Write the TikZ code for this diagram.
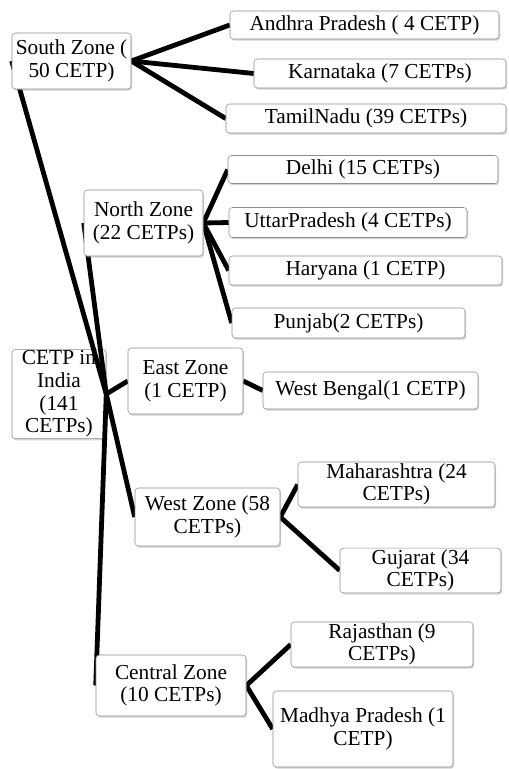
\documentclass[tikz,border=0pt]{standalone}
\usepackage{fontspec}
\setmainfont{Liberation Serif}
\usepackage{tikz}
\usetikzlibrary{shadows}

\pgfdeclarelayer{rootlayer}
\pgfdeclarelayer{linklayer}
\pgfsetlayers{rootlayer,linklayer,main}

\tikzset{
  box/.style={draw=black!45, fill=white, rounded corners=2.5pt, align=center, inner sep=1pt,
    font=\fontsize{16}{17}\selectfont,
    drop shadow={shadow xshift=0.9pt, shadow yshift=-1.3pt, opacity=0.35}},
  sz/.style 2 args={minimum width=#1*0.75pt, minimum height=#2*0.75pt},
  link/.style={line width=3.6pt}
}

\begin{document}
\begin{tikzpicture}[x=0.75pt,y=0.75pt,yscale=-1,xscale=1]
\useasboundingbox (0,0) rectangle (508,769);

%Root box (below the links)
\begin{pgfonlayer}{rootlayer}
\node[box, sz={94}{84}] (india) at (59,394) {CETP in\\India\\(141\\CETPs)};
\end{pgfonlayer}

%Zone boxes
\node[box, sz={119}{56}] (south) at (71.5,61) {South Zone (\\50 CETP)};
\node[box, sz={119}{66}] (north) at (143.5,223) {North Zone\\(22 CETPs)};
\node[box, sz={115}{66}] (east) at (185.5,381) {East Zone\\(1 CETP)};
\node[box, sz={145}{58}] (west) at (207.5,517) {West Zone (58\\CETPs)};
\node[box, sz={150}{61}] (central) at (171,685.5) {Central Zone\\(10 CETPs)};

%State boxes
\node[box, sz={269}{28}] (andhra) at (364.5,25) {Andhra Pradesh ( 4 CETP)};
\node[box, sz={252}{29}] (karnataka) at (380,73.5) {Karnataka (7 CETPs)};
\node[box, sz={280}{29}] (tamil) at (366,118.5) {TamilNadu (39 CETPs)};
\node[box, sz={270}{28}] (delhi) at (363,169.5) {Delhi (15 CETPs)};
\node[box, sz={238}{30}] (uttar) at (348,222.5) {UttarPradesh (4 CETPs)};
\node[box, sz={273}{29}] (haryana) at (365.5,270.5) {Haryana (1 CETP)};
\node[box, sz={233}{30}] (punjab) at (348.5,323) {Punjab(2 CETPs)};
\node[box, sz={215}{37}] (bengal) at (370.5,390.5) {West Bengal(1 CETP)};
\node[box, sz={197}{45}] (maha) at (396.5,484.5) {Maharashtra (24\\CETPs)};
\node[box, sz={161}{41}] (gujarat) at (420.5,570.5) {Gujarat (34\\CETPs)};
\node[box, sz={182}{45}] (rajas) at (382,644.5) {Rajasthan (9\\CETPs)};
\node[box, sz={180}{76}] (madhya) at (363,729) {Madhya Pradesh (1\\CETP)};

%Links
\begin{pgfonlayer}{linklayer}
\foreach \z in {south,north,east,west,central}
  \draw[link] (india.east) -- (\z.west);
\foreach \s in {andhra,karnataka,tamil}
  \draw[link] (south.east) -- (\s.west);
\foreach \s in {delhi,uttar,haryana,punjab}
  \draw[link] (north.east) -- (\s.west);
\draw[link] (east.east) -- (bengal.west);
\foreach \s in {maha,gujarat}
  \draw[link] (west.east) -- (\s.west);
\foreach \s in {rajas,madhya}
  \draw[link] (central.east) -- (\s.west);
\end{pgfonlayer}

\end{tikzpicture}
\end{document}
